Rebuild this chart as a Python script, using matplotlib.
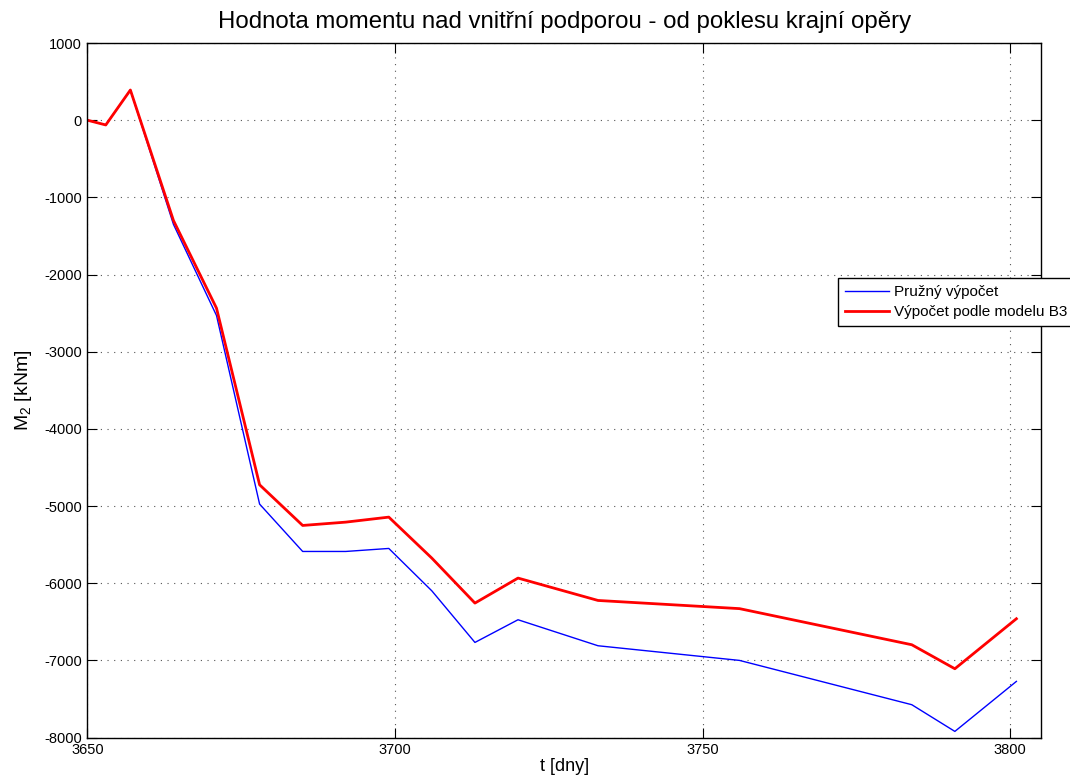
import numpy as np
import matplotlib
matplotlib.use("Agg")
import matplotlib.pyplot as plt

plt.rcParams['font.family'] = ['Liberation Sans', 'DejaVu Sans']
plt.rcParams['axes.unicode_minus'] = False
plt.rcParams['mathtext.default'] = 'regular'

# time [days]
t = [3650, 3653, 3657, 3664, 3671, 3678, 3685, 3692, 3699, 3706,
     3713, 3720, 3733, 3756, 3784, 3791, 3801]

# moment M2 [kNm]
m_elastic = [0, -62, 391, -1350, -2532, -4975, -5589, -5589, -5550, -6100,
             -6768, -6474, -6811, -7001, -7575, -7921, -7273]
m_b3 = [0, -62, 391, -1300, -2437, -4725, -5252, -5209, -5144, -5676,
        -6258, -5934, -6224, -6330, -6798, -7109, -6461]

labels = ['Pružný výpočet', 'Výpočet podle modelu B3']

fig = plt.figure(figsize=(10.7, 7.82), dpi=100)
ax = fig.add_axes([0.0816, 0.0569, 0.8913, 0.8881])

ax.plot(t, m_elastic, color='#0000ff', lw=1.0, label=labels[0])
ax.plot(t, m_b3, color='#ff0000', lw=2.0, label=labels[1])

ax.set_xlim(3650, 3805)
ax.set_ylim(-8000, 1000)
ax.set_xticks([3650, 3700, 3750, 3800])
ax.set_yticks(np.arange(-8000, 1001, 1000))

ax.grid(True, linestyle=(0, (1, 5)), color='#555555', lw=0.8)
ax.tick_params(direction='in', top=True, right=True, labelsize=10.5,
               length=7, width=0.8, pad=4)
for s in ax.spines.values():
    s.set_linewidth(1.0)

ax.set_title('Hodnota momentu nad vnitřní podporou - od poklesu krajní opěry',
             fontsize=17.3, pad=11)
ax.set_xlabel('t [dny]', fontsize=13, labelpad=1)
ax.set_ylabel('M$_2$ [kNm]', fontsize=14, labelpad=7)

leg = fig.legend(loc='upper left', bbox_to_anchor=(0.783, 0.6445),
                 borderaxespad=0, fontsize=11, frameon=True, fancybox=False,
                 framealpha=1, edgecolor='black', handlelength=2.9,
                 handletextpad=0.35, borderpad=0.45, labelspacing=0.4)
leg.get_frame().set_linewidth(1.0)

fig.savefig('out.png', dpi=100)
